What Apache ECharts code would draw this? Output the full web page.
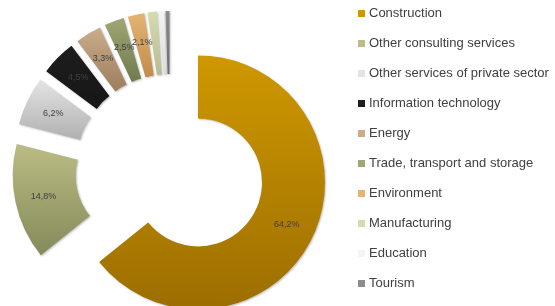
<!DOCTYPE html>
<html>
<head>
<meta charset="utf-8">
<script src="https://cdn.jsdelivr.net/npm/echarts@6/dist/echarts.min.js"></script>
<style>
  html, body { margin: 0; padding: 0; background: #fff; }
  #chart { width: 555px; height: 306px; }
</style>
</head>
<body>
<div id="chart"></div>
<script>
var sectors = ["Construction", "Other consulting services", "Other services of private sector",
    "Information technology", "Energy", "Trade, transport and storage", "Environment",
    "Manufacturing", "Education", "Tourism"];
var shares = [64.2, 14.8, 6.2, 4.5, 3.3, 2.5, 2.1, 1.2, 0.7, 0.5];

// top / bottom colour of each slice gradient
var topColors = ["#cf9800", "#bcbc84", "#e4e4e4", "#1e1e1e", "#cbad8c", "#a0a674", "#e4b472", "#d6dcb0", "#f4f4f4", "#8c8c8c"];
var bottomColors = ["#9c6e00", "#848a5a", "#b0b0b0", "#161616", "#9c7e5e", "#707a4c", "#c08c4c", "#b8bc90", "#dcdcdc", "#6c6c6c"];

function grad(i) {
    return new echarts.graphic.LinearGradient(0, 0, 0, 1, [
        { offset: 0, color: topColors[i] },
        { offset: 1, color: bottomColors[i] }
    ]);
}

var data = sectors.map(function (name, i) {
    return {
        name: name,
        value: shares[i],
        selected: true,
        itemStyle: { color: grad(i) },
        label: { show: shares[i] >= 2 }
    };
});

var option = {
    animation: false,
    legend: {
        orient: 'vertical',
        left: 353,
        top: 2,
        itemWidth: 7,
        itemHeight: 7,
        itemGap: 17,
        icon: 'rect',
        selectedMode: false,
        textStyle: { color: '#404040', fontSize: 13, fontFamily: 'Liberation Sans', padding: [0, 0, 0, -1] },
        data: sectors.map(function (name, i) {
            return { name: name, itemStyle: { color: topColors[i] } };
        })
    },
    series: [{
        type: 'pie',
        center: [170, 169],
        radius: [64, 127],
        startAngle: 90,
        clockwise: true,
        selectedMode: 'multiple',
        selectedOffset: 31,
        silent: true,
        avoidLabelOverlap: false,
        labelLayout: { hideOverlap: false },
        itemStyle: {
            shadowColor: 'rgba(0,0,0,0.25)',
            shadowBlur: 2,
            shadowOffsetX: 1,
            shadowOffsetY: 1
        },
        label: {
            position: 'inside',
            color: '#404040',
            fontSize: 9,
            fontFamily: 'Liberation Sans',
            formatter: function (p) {
                return p.value.toFixed(1).replace('.', ',') + '%';
            }
        },
        labelLine: { show: false },
        data: data
    }]
};

echarts.init(document.getElementById('chart')).setOption(option);
</script>
</body>
</html>
